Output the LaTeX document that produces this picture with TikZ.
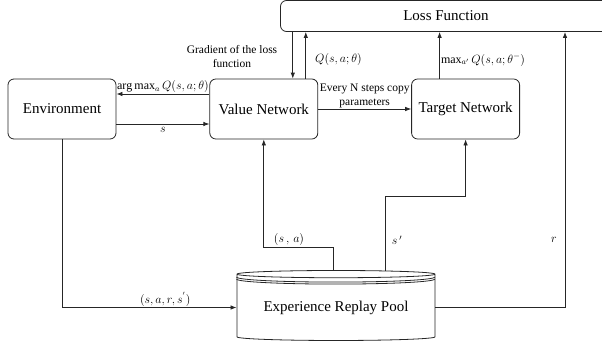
\documentclass[tikz,border=0pt]{standalone}
\usepackage{fontspec}
\setmainfont{Liberation Serif}
\usetikzlibrary{shapes.geometric, arrows.meta, positioning, calc}
\tikzstyle{block} = [rectangle, rounded corners=6pt, minimum width=108pt, minimum height=60pt, text centered, draw=black!85, line width=0.8pt, font=\fontsize{15}{18}\selectfont]
\tikzstyle{lossbox} = [rectangle, rounded corners=6pt, minimum width=331pt, minimum height=31pt, draw=black!85, line width=0.8pt, font=\fontsize{15}{18}\selectfont]
\tikzstyle{database} = [cylinder, shape border rotate=90, aspect=0.05, minimum width=198pt, minimum height=70pt, draw=black!85, line width=0.8pt, inner sep=0pt, font=\fontsize{15}{18}\selectfont]
\tikzstyle{arrow} = [line width=0.8pt, draw=black!85, -{Latex[length=6pt,width=4.5pt]}]
\tikzstyle{line} = [line width=0.8pt, draw=black!85]
\tikzstyle{lab} = [font=\fontsize{11.5}{13.5}\selectfont, align=center, inner sep=1pt]
\tikzstyle{mlab} = [font=\fontsize{12}{14}\selectfont, inner sep=1pt]

\begin{document}
\begin{tikzpicture}[x=1pt, y=-1pt]
        \useasboundingbox (0,0) rectangle (602,345);

        \node (loss) [lossbox] at (446,16) {Loss Function};
        \node (env) [block] at (62,109) {Environment};
        \node (value) [block, right=93pt of env] {Value Network};
        \node (target) [block, right=93pt of value] {Target Network};
        \node (pool) [database] at (336,307.5) {Experience Replay Pool};

        \coordinate (gradin) at ($(value.north)+(29,0)$);
        \coordinate (qout) at ($(value.north)+(42,0)$);
        \coordinate (tout) at ($(target.north)+(-26,0)$);
        \coordinate (point1) at ($(pool.north)+(-3,0)$);
        \coordinate (point2) at ($(pool.north)+(49,1)$);
        \coordinate (point3) at (565,0);

        % extra layers on top of the pool
        \draw [line] ($(pool.west |- pool.north)+(0,7)$) arc[start angle=180, end angle=360, x radius=99pt, y radius=5pt];
        \draw [line] ($(pool.west |- pool.north)+(0,9)$) arc[start angle=180, end angle=360, x radius=99pt, y radius=5pt];

        \draw [arrow] ([yshift=15pt]value.west) -- node[mlab, above] {$\arg\max_{a} Q(s,a;\theta)$} ([yshift=15pt]env.east);
        \draw [arrow] ([yshift=-15pt]env.east) -- node[mlab, below, yshift=-2pt] {$s$} ([yshift=-15pt]value.west);
        \draw [arrow] (value.east) -- node[lab, above] {Every N steps copy\\parameters} (target.west);
        \draw [arrow] (gradin |- loss.south) -- (gradin);
        \draw [arrow] (qout) -- node[mlab, right=8pt, pos=0.4] {$Q(s,a;\theta)$} (qout |- loss.south);
        \draw [arrow] (tout) -- node[mlab, right, pos=0.4] {$\max_{a'} Q(s,a;\theta^{-})$} (tout |- loss.south);
        \node (gradlab) [lab] at (232,56.5) {Gradient of the loss\\function};

        \draw [arrow] (env.south) |- node[mlab, above, pos=0.75, xshift=16pt] {$(s,a,r,s^{'})$} (pool.west);
        \draw [arrow] (point1) -- ++(0,-23) -| (value.south);
        \node (salab) [mlab] at (289,239) {$(s\,,\,a)$};
        \draw [arrow] (point2) -- ++(0,-75) -| (target.south);
        \node (slab) [mlab] at (397,240) {$s\,'$};
        \draw [arrow] (pool.east) -| (point3 |- loss.south);
        \node (rlab) [mlab] at (554,240) {$r$};

    \end{tikzpicture}
\end{document}
